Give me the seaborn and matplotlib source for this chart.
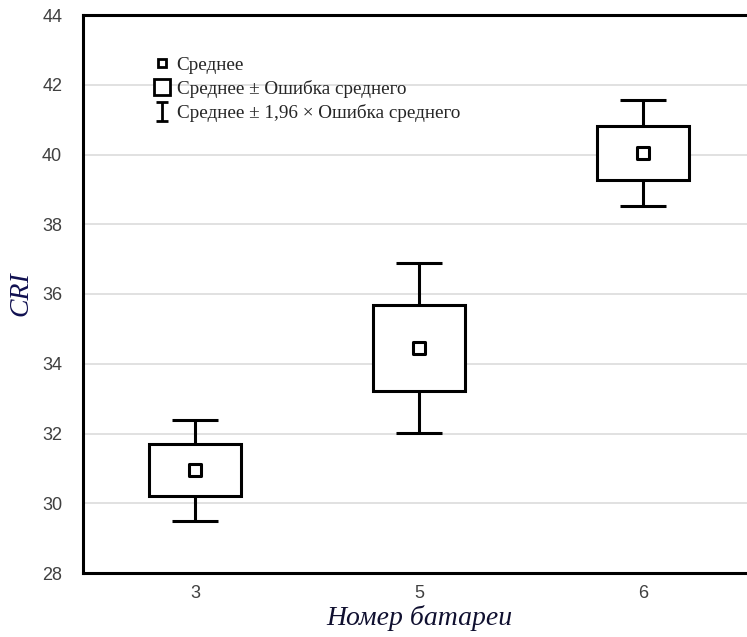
import numpy as np
import pandas as pd
import matplotlib
matplotlib.use('Agg')
import matplotlib.pyplot as plt
import seaborn as sns
from matplotlib.lines import Line2D

# Данные: среднее и ошибка среднего по номерам батарей
batteries = ['3', '5', '6']
means = [30.95, 34.45, 40.04]
se = [0.74, 1.24, 0.78]

y_ticks = [28, 30, 32, 34, 36, 38, 40, 42, 44]

sns.set_theme(style='white')
plt.rcParams['font.family'] = ['Liberation Sans', 'DejaVu Sans']
serif = ['Liberation Serif', 'DejaVu Serif']

df = pd.DataFrame({'battery': batteries, 'mean': means, 'se': se})
df['lo'] = df['mean'] - df['se']
df['ci'] = 1.96 * df['se']
pos = np.arange(len(df))

fig = plt.figure(figsize=(7.47, 6.37), dpi=100)
ax = fig.add_axes([83 / 747, 64 / 637, 672 / 747, 558 / 637])

lw = 2.2
# Усы: среднее ± 1,96 × ошибка
ax.errorbar(pos, df['mean'], yerr=df['ci'], fmt='none', ecolor='black',
            elinewidth=lw, capsize=16.5, capthick=lw, zorder=2)
# Коробки: среднее ± ошибка
ax.bar(pos, 2 * df['se'], bottom=df['lo'], width=0.41, color='white',
       edgecolor='black', linewidth=lw, zorder=3)
# Средние
sns.scatterplot(x=pos, y=df['mean'], marker='s', s=65, color='white',
                edgecolor='black', linewidth=2.2, zorder=4, ax=ax, legend=False)

ax.set_xlim(-0.5, 2.5)
ax.set_ylim(28, 44)
ax.set_xticks(pos)
ax.set_xticklabels(df['battery'])
ax.set_yticks(y_ticks)
ax.yaxis.grid(True, color='#dcdcdc', linewidth=1.2)
ax.xaxis.grid(False)
ax.set_axisbelow(True)

for side in ['left', 'bottom', 'top', 'right']:
    ax.spines[side].set_color('black')
    ax.spines[side].set_linewidth(2.2)

ax.tick_params(axis='both', which='both', direction='in', length=4, width=1,
               color='#606060', labelsize=13, labelcolor='#404040', pad=9)
ax.tick_params(axis='y', length=0, pad=15)

ax.set_xlabel('Номер батареи', family=serif, style='italic', fontsize=20,
              color='#101030', labelpad=2)
ax.set_ylabel('CRI', family=serif, style='italic', fontsize=20,
              color='#101050', labelpad=6)

# Элементы легенды
h_mean = Line2D([], [], linestyle='none', marker='s', markersize=6,
                markerfacecolor='white', markeredgecolor='black', markeredgewidth=2)
h_box = Line2D([], [], linestyle='none', marker='s', markersize=11.5,
               markerfacecolor='white', markeredgecolor='black', markeredgewidth=2)
h_ci = ax.errorbar([np.nan], [np.nan], yerr=[1], fmt='none', ecolor='black',
                   elinewidth=2, capsize=4, capthick=2)
ax.legend([h_mean, h_box, h_ci],
          ['Среднее', 'Среднее ± Ошибка среднего',
           'Среднее ± 1,96 × Ошибка среднего'],
          loc='upper left', bbox_to_anchor=(0.095, 0.94), frameon=False,
          prop={'family': serif, 'size': 13.8},
          handlelength=0.8, handletextpad=0.35, labelspacing=0.32,
          borderaxespad=0)

fig.savefig('out.png', dpi=100)
